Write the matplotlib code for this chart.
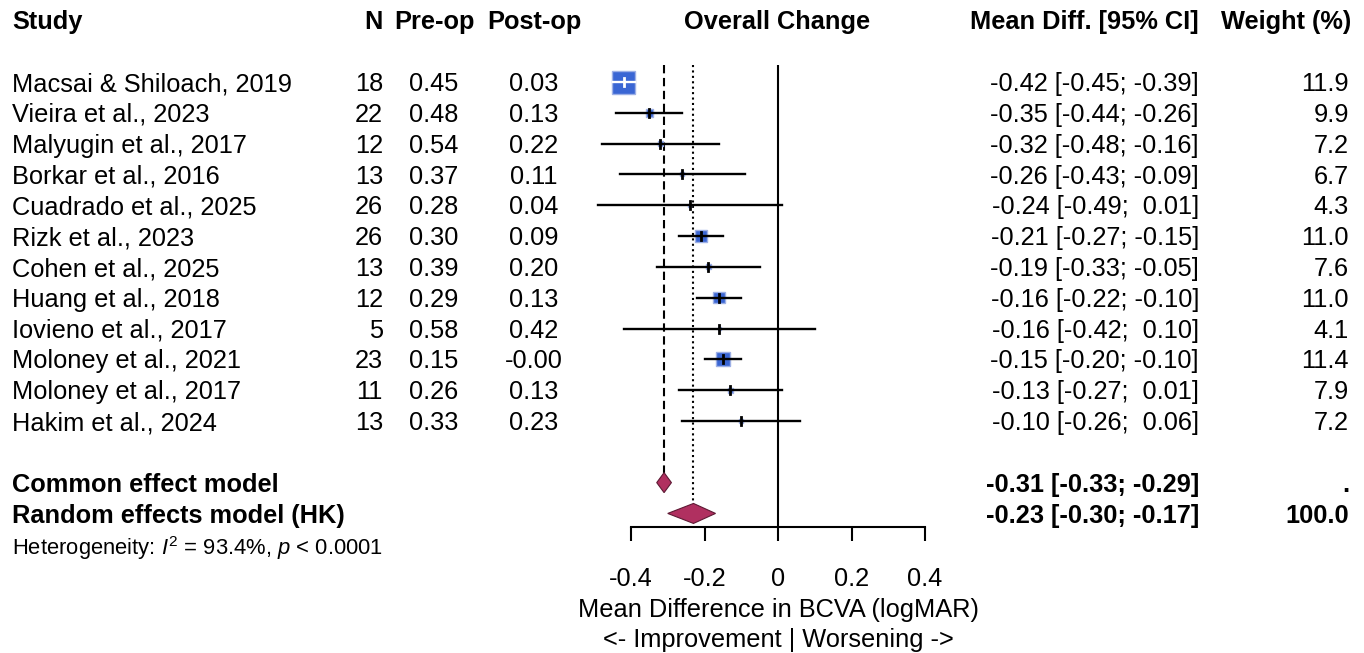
import matplotlib
matplotlib.use("Agg")
import matplotlib.pyplot as plt
import numpy as np
from matplotlib.transforms import blended_transform_factory
from matplotlib.patches import Rectangle, Polygon

plt.rcParams['font.family'] = ['Liberation Sans', 'DejaVu Sans']
plt.rcParams['mathtext.fontset'] = 'custom'
plt.rcParams['mathtext.rm'] = 'Liberation Sans'
plt.rcParams['mathtext.it'] = 'Liberation Sans:italic'
plt.rcParams['axes.unicode_minus'] = False

# data
studies = ['Macsai & Shiloach, 2019', 'Vieira et al., 2023', 'Malyugin et al., 2017',
           'Borkar et al., 2016', 'Cuadrado et al., 2025', 'Rizk et al., 2023',
           'Cohen et al., 2025', 'Huang et al., 2018', 'Iovieno et al., 2017',
           'Moloney et al., 2021', 'Moloney et al., 2017', 'Hakim et al., 2024']
n_eyes = [18, 22, 12, 13, 26, 26, 13, 12, 5, 23, 11, 13]
pre_op = [0.45, 0.48, 0.54, 0.37, 0.28, 0.30, 0.39, 0.29, 0.58, 0.15, 0.26, 0.33]
post_op = [0.03, 0.13, 0.22, 0.11, 0.04, 0.09, 0.20, 0.13, 0.42, -0.0, 0.13, 0.23]
md = [-0.42, -0.35, -0.32, -0.26, -0.24, -0.21, -0.19, -0.16, -0.16, -0.15, -0.13, -0.10]
ci_lo = [-0.45, -0.44, -0.48, -0.43, -0.49, -0.27, -0.33, -0.22, -0.42, -0.20, -0.27, -0.26]
ci_hi = [-0.39, -0.26, -0.16, -0.09, 0.01, -0.15, -0.05, -0.10, 0.10, -0.10, 0.01, 0.06]
weight = [11.9, 9.9, 7.2, 6.7, 4.3, 11.0, 7.6, 11.0, 4.1, 11.4, 7.9, 7.2]
weight_total = 100.0

common = [-0.31, -0.33, -0.29]
random_hk = [-0.23, -0.30, -0.17]
i2 = 93.4

W, H, DPI = 1364, 653, 100
FS = 18.3
fig = plt.figure(figsize=(W / DPI, H / DPI), dpi=DPI)
ax = fig.add_axes([631 / W, (H - 527) / H, 294 / W, 462 / H])
ax.set_xlim(-0.4, 0.4)
ax.set_ylim(15.44, 0.448)

# pixel sizes of one x unit and one row
xpx = 294 / 0.8
ypx = 462 / (15.44 - 0.448)

rows = np.arange(1, len(studies) + 1)
row_common = rows[-1] + 2
row_random = rows[-1] + 3

sq_col = '#3a66d4'
sq_edge = '#9db0e6'
dia_col = '#B03060'

# box side ~ sqrt(inverse-variance weight)
se = (np.array(ci_hi) - np.array(ci_lo)) / (2 * 1.96)
w_iv = 1 / se ** 2
side_px = 23 * np.sqrt(w_iv / w_iv.max())

for r, m, lo, hi, s in zip(rows, md, ci_lo, ci_hi, side_px):
    bw = s / xpx
    bh = s / ypx
    ax.add_patch(Rectangle((m - bw / 2, r - bh / 2), bw, bh, facecolor=sq_col,
                           edgecolor=sq_edge, lw=1, clip_on=False, zorder=3))
    inside = (m - lo) < bw / 2 and (hi - m) < bw / 2
    lc = 'white' if inside else 'black'
    ax.plot([lo, hi], [r, r], color=lc, lw=1.7, clip_on=False, zorder=4)
    ax.plot([m, m], [r - 4 / ypx, r + 4 / ypx], color=lc, lw=2, clip_on=False, zorder=4)

# summary diamonds
dh = 10 / ypx
for r, (m, lo, hi) in [(row_common, common), (row_random, random_hk)]:
    ax.add_patch(Polygon([(lo, r), (m, r - dh), (hi, r), (m, r + dh)], closed=True,
                         facecolor=dia_col, edgecolor='#5e1a34', lw=0.8,
                         clip_on=False, zorder=3))

top = 0.448
ax.axvline(0, color='black', lw=1.5, zorder=2)
ax.vlines(common[0], top, row_common - dh, colors='black', lw=1.5,
          linestyles=(0, (4, 2.2)), zorder=2)
ax.vlines(random_hk[0], top, row_random - dh, colors='black', lw=1.5,
          linestyles=(0, (1, 1.6)), zorder=2)

for sp in ['top', 'right', 'left']:
    ax.spines[sp].set_visible(False)
ax.spines['bottom'].set_bounds(-0.4, 0.4)
ax.spines['bottom'].set_linewidth(1.5)
ax.set_yticks([])
ax.set_xticks([-0.4, -0.2, 0, 0.2, 0.4])
ax.set_xticklabels(['-0.4', '-0.2', '0', '0.2', '0.4'])
ax.tick_params(axis='x', direction='out', length=10, width=1.5, pad=19, labelsize=FS)
ax.set_xlabel('Mean Difference in BCVA (logMAR)\n<- Improvement | Worsening ->',
              fontsize=FS, labelpad=5, linespacing=1.28)
ax.patch.set_visible(False)

# text columns
tr = blended_transform_factory(fig.transFigure, ax.transData)


def col(x, y, s, ha='left', bold=False, size=FS):
    # put the baseline so that the cap height is centred on the row
    cap = 0.716 * size * DPI / 72
    ax.text(x / W, y + (cap / 2) / ypx, s, transform=tr, ha=ha, va='baseline',
            fontsize=size, fontweight='bold' if bold else 'normal', clip_on=False)


hrow = -1.02
col(12, hrow, 'Study', bold=True)
col(383, hrow, 'N', ha='right', bold=True)
col(434, hrow, 'Pre-op', ha='center', bold=True)
col(534, hrow, 'Post-op', ha='center', bold=True)
col(777, hrow, 'Overall Change', ha='center', bold=True)
col(1199, hrow, 'Mean Diff. [95% CI]', ha='right', bold=True)
col(1351, hrow, 'Weight (%)', ha='right', bold=True)

for r, st, nn, a, b, m, lo, hi, w in zip(rows, studies, n_eyes, pre_op, post_op,
                                         md, ci_lo, ci_hi, weight):
    col(12, r, st)
    col(383, r, str(nn), ha='right')
    col(434, r, f'{a:.2f}', ha='center')
    col(534, r, f'{b:.2f}', ha='center')
    col(1199, r, f'{m:.2f} [{lo:.2f}; {hi:5.2f}]', ha='right')
    col(1349, r, f'{w:.1f}', ha='right')

col(12, row_common, 'Common effect model', bold=True)
col(1199, row_common, f'{common[0]:.2f} [{common[1]:.2f}; {common[2]:.2f}]', ha='right', bold=True)
col(1349, row_common, '.', ha='right', bold=True)
col(12, row_random, 'Random effects model (HK)', bold=True)
col(1199, row_random, f'{random_hk[0]:.2f} [{random_hk[1]:.2f}; {random_hk[2]:.2f}]', ha='right', bold=True)
col(1349, row_random, f'{weight_total:.1f}', ha='right', bold=True)
col(12, row_random + 1.1, f'Heterogeneity: $I^2$ = {i2}%, $p$ < 0.0001', size=15.8)

fig.savefig('out.png', dpi=DPI)
